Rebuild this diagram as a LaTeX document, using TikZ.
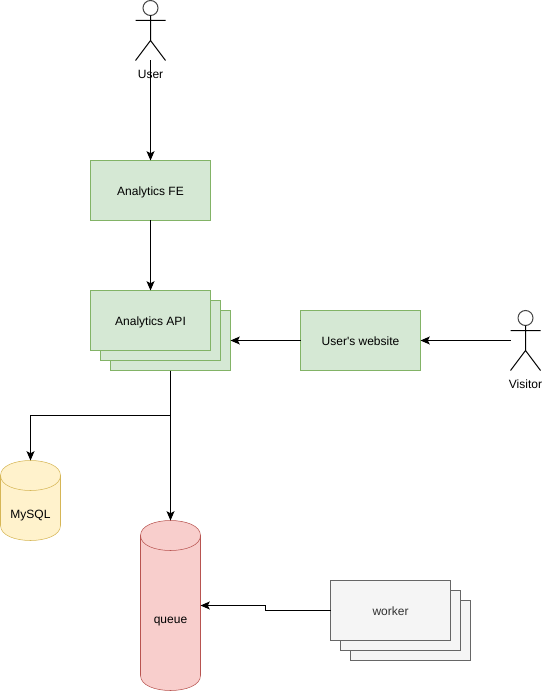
\documentclass[tikz,border=0pt]{standalone}
\usepackage{fontspec}
\setmainfont[Ligatures=TeXOff]{Liberation Sans}
\usetikzlibrary{arrows.meta}
\definecolor{gfill}{HTML}{D5E8D4}\definecolor{gline}{HTML}{82B366}
\definecolor{yfill}{HTML}{FFF2CC}\definecolor{yline}{HTML}{D6B656}
\definecolor{rfill}{HTML}{F8CECC}\definecolor{rline}{HTML}{B85450}
\definecolor{wfill}{HTML}{F5F5F5}\definecolor{wline}{HTML}{666666}
\definecolor{wtext}{HTML}{333333}
\tikzset{
  x=0.75pt,y=-0.75pt,
  every node/.style={font=\fontsize{9}{11}\selectfont,inner sep=0pt,outer sep=0pt},
  line width=0.75pt,
  box/.style={rectangle,minimum width=90pt,minimum height=45pt,text height=7.2pt,text depth=0pt},
  greenbox/.style={box,draw=gline,fill=gfill},
  greybox/.style={box,draw=wline,fill=wfill,text=wtext},
  lbl/.style={anchor=base},
  conn/.style={-{Stealth[length=7pt,width=6pt,inset=1.6pt]},black,line width=0.75pt},
  actorline/.style={black,line width=0.75pt},
  actorhead/.style={draw=wline!70!black,fill=white,line width=0.75pt},
}
\newcommand{\actorfig}[2]{%
  \draw[actorhead] (#1,#2+7.5) circle [radius=7.5];
  \draw[actorline] (#1,#2+15) -- (#1,#2+40)
    (#1-15,#2+20) -- (#1+15,#2+20)
    (#1-15,#2+60) -- (#1,#2+40) -- (#1+15,#2+60);
}
\newcommand{\cylfig}[6]{% x-left, x-right, y-top, y-bottom, fill, line
  \draw[draw=#6,fill=#5] (#1,#3+15) .. controls (#1,#3-5) and (#2,#3-5) .. (#2,#3+15)
     -- (#2,#4-15) .. controls (#2,#4+5) and (#1,#4+5) .. (#1,#4-15) -- cycle;
  \draw[draw=#6] (#1,#3+15) .. controls (#1,#3+35) and (#2,#3+35) .. (#2,#3+15);
}
\begin{document}
\begin{tikzpicture}
\useasboundingbox (-0.5,-0.5) rectangle (541.5,690.5);
% actors
\actorfig{150}{0}
\actorfig{525}{310}
\node[rectangle,minimum width=22.5pt,minimum height=45pt] (user) at (150,30) {};
\node[rectangle,minimum width=22.5pt,minimum height=45pt] (visitor) at (525,340) {};
\node[lbl] (userlbl) at (150,78) {User};
\node[lbl] (visitorlbl) at (525,388) {Visitor};
% boxes
\node[greenbox] (fe) at (150,190) {Analytics FE};
\node[greenbox] (api3) at (170,340) {};
\node[greenbox] (api2) at (160,330) {};
\node[greenbox] (api) at (150,320) {Analytics API};
\node[greenbox] (site) at (360,340) {User's website};
\node[greybox] (w3) at (410,630) {};
\node[greybox] (w2) at (400,620) {};
\node[greybox] (worker) at (390,610) {worker};
% cylinders
\cylfig{0}{60}{460}{540}{yfill}{yline}
\cylfig{140}{200}{520}{690}{rfill}{rline}
\node[rectangle,minimum width=45pt,minimum height=60pt] (mysql) at (30,500) {};
\node[rectangle,minimum width=45pt,minimum height=127.5pt] (queue) at (170,605) {};
\node[lbl] (mysqllbl) at (30,517.5) {MySQL};
\node[lbl] (queuelbl) at (170,622.5) {queue};
% connectors
\draw[conn] (user.south) -- (fe.north);
\draw[conn] (fe.south) -- (api.north);
\draw[conn] (visitor.west) -- (site.east);
\draw[conn] (site.west) -- (api3.east);
\draw[conn] (api3.south) -- (queue.north);
\draw[conn] (api3.south) -- ++(0,45) -| (mysql.north);
\draw[conn] (worker.west) -- ++(-65,0) -- ++(0,-5) -- (queue.east);
\end{tikzpicture}
\end{document}
